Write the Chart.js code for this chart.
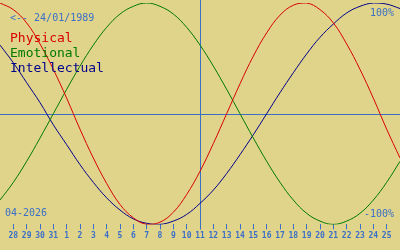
<!DOCTYPE html>
<html>
<head>
<meta charset="utf-8">
<script src="https://cdn.jsdelivr.net/npm/chart.js@4/dist/chart.umd.min.js"></script>
<style>
  html, body { margin: 0; padding: 0; background: #e0d48a; }
  #bio { display: block; }
</style>
</head>
<body>
<canvas id="bio" width="400" height="250"></canvas>
<script>
// offset in days from 11/04/2026 (the blue vertical line)
const days = [-15, -14, -13, -12, -11, -10, -9, -8, -7, -6, -5, -4, -3, -2, -1, 0,
    1, 2, 3, 4, 5, 6, 7, 8, 9, 10, 11, 12, 13, 14, 15];
// day of month under each tick (-14 .. 14)
const tickLabels = ["28", "29", "30", "31", "1", "2", "3", "4", "5", "6", "7", "8", "9", "10",
    "11", "12", "13", "14", "15", "16", "17", "18", "19", "20", "21", "22", "23", "24", "25"];

const physical = [1.00, 0.94, 0.82, 0.63, 0.40, 0.14, -0.14, -0.40, -0.63, -0.82, -0.94, -1.00,
    -0.98, -0.89, -0.73, -0.52, -0.27, 0.00, 0.27, 0.52, 0.73, 0.89, 0.98, 1.00, 0.94, 0.82,
    0.63, 0.40, 0.14, -0.14, -0.40];
const emotional = [-0.78, -0.62, -0.43, -0.22, 0.00, 0.22, 0.43, 0.62, 0.78, 0.90, 0.97, 1.00,
    0.97, 0.90, 0.78, 0.62, 0.43, 0.22, 0.00, -0.22, -0.43, -0.62, -0.78, -0.90, -0.97, -1.00,
    -0.97, -0.90, -0.78, -0.62, -0.43];
const intellectual = [0.62, 0.46, 0.28, 0.10, -0.10, -0.28, -0.46, -0.62, -0.76, -0.87, -0.95,
    -0.99, -1.00, -0.97, -0.91, -0.81, -0.69, -0.54, -0.37, -0.19, 0.00, 0.19, 0.37, 0.54, 0.69,
    0.81, 0.91, 0.97, 1.00, 0.99, 0.95];

const BLUE = "#3a6fc8";
const BG = "#e0d48a";
const MONO = "'DejaVu Sans Mono', 'Liberation Mono', monospace";

function serie(values) {
    return days.map((d, i) => ({ x: d, y: values[i] }));
}

// background, zero line, today line and the texts
const bioPlugin = {
    id: "bio",
    beforeDraw(chart) {
        const c = chart.ctx;
        c.save();
        c.fillStyle = BG;
        c.fillRect(0, 0, chart.width, chart.height);
        c.restore();
    },
    beforeDatasetsDraw(chart) {
        const c = chart.ctx;
        const x = chart.scales.x, y = chart.scales.y;
        const y0 = Math.round(y.getPixelForValue(0)) + 0.5;
        const x0 = Math.round(x.getPixelForValue(0)) + 0.5;
        c.save();
        c.strokeStyle = BLUE;
        c.lineWidth = 1;
        c.beginPath();
        c.moveTo(0, y0);
        c.lineTo(chart.width, y0);
        c.moveTo(x0, 0);
        c.lineTo(x0, chart.chartArea.bottom + 5);
        c.stroke();
        c.restore();
    },
    afterDraw(chart) {
        const c = chart.ctx;
        c.save();
        c.textBaseline = "alphabetic";
        c.font = "10px " + MONO;
        c.fillStyle = BLUE;
        c.textAlign = "left";
        c.fillText("<-- 24/01/1989", 10, 21);
        c.fillText("04-2026", 5, 216);
        c.textAlign = "right";
        c.fillText("100%", 394, 16);
        c.fillText("-100%", 394, 217);

        c.textAlign = "left";
        c.font = "13px " + MONO;
        c.fillStyle = "#d80000";
        c.fillText("Physical", 10, 42);
        c.fillStyle = "#007a00";
        c.fillText("Emotional", 10, 57);
        c.fillStyle = "#00008c";
        c.fillText("Intellectual", 10, 72);
        c.restore();
    },
};

new Chart(document.getElementById("bio").getContext("2d"), {
    type: "line",
    data: {
        datasets: [
            { label: "Physical", data: serie(physical), borderColor: "#d80000" },
            { label: "Emotional", data: serie(emotional), borderColor: "#007a00" },
            { label: "Intellectual", data: serie(intellectual), borderColor: "#00008c" },
        ],
    },
    options: {
        responsive: false,
        animation: false,
        events: [],
        layout: { padding: { top: 3, bottom: 7, left: 0, right: 0 } },
        elements: {
            line: { borderWidth: 1, tension: 0.4, fill: false },
            point: { radius: 0 },
        },
        plugins: {
            legend: { display: false },
            tooltip: { enabled: false },
        },
        scales: {
            x: {
                type: "linear",
                min: -15,
                max: 15,
                afterBuildTicks: function (scale) {
                    scale.ticks = scale.ticks.filter((t) => t.value > -15 && t.value < 15);
                },
                ticks: {
                    stepSize: 1,
                    autoSkip: false,
                    maxRotation: 0,
                    padding: 2,
                    color: BLUE,
                    font: { family: MONO, size: 8, weight: "bold" },
                    callback: function (value) {
                        return tickLabels[value + 14];
                    },
                },
                grid: {
                    drawOnChartArea: false,
                    drawTicks: true,
                    tickLength: 5,
                    color: BLUE,
                },
                border: { display: false },
            },
            y: {
                display: false,
                min: -1,
                max: 1,
            },
        },
    },
    plugins: [bioPlugin],
});
</script>
</body>
</html>
